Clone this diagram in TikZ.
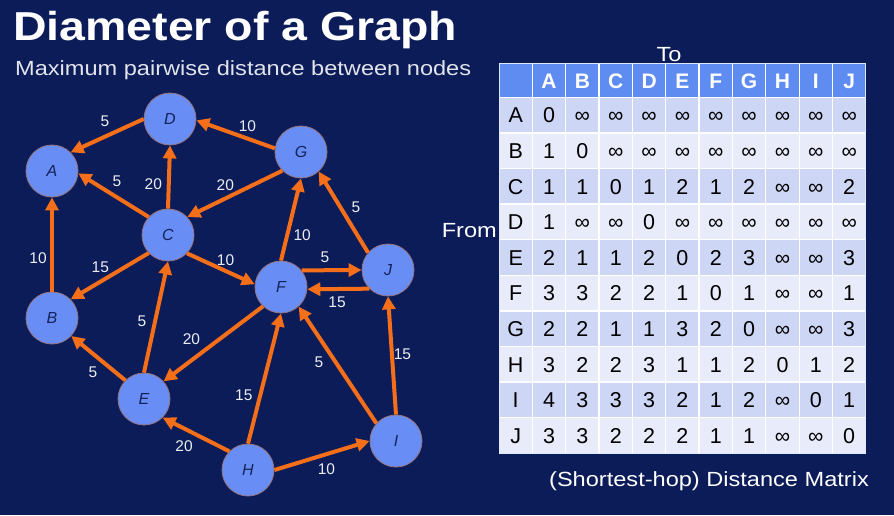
\documentclass[tikz,border=0pt]{standalone}
\usepackage{fontspec}
\setmainfont{Liberation Sans}
\newfontfamily\widefont[FakeStretch=1.15]{Liberation Sans}
\usetikzlibrary{arrows.meta}

\definecolor{navy}{RGB}{12,28,88}
\definecolor{vfill}{RGB}{104,142,246}
\definecolor{vline}{RGB}{150,115,125}
\definecolor{vtext}{RGB}{20,34,90}
\definecolor{edgeor}{RGB}{245,110,25}
\definecolor{hdrblue}{RGB}{95,140,240}
\definecolor{rowdark}{RGB}{205,214,245}
\definecolor{rowlight}{RGB}{232,236,250}

\tikzset{
    vert/.style={circle, minimum size=52pt, inner sep=0pt, fill=vfill, draw=vline, line width=0.8pt,
        text=vtext, font=\fontsize{16}{16}\selectfont\itshape},
    link/.style={draw=edgeor, line width=4pt, -{Triangle[length=13pt,width=13pt]}},
    wt/.style={text=white!92!navy, font=\fontsize{15.5}{15.5}\selectfont},
    cell/.style={text height=15.5pt, text depth=0pt, inner sep=0pt, font=\fontsize{21.5}{21.5}\selectfont},
    hcell/.style={cell, text=white, font=\fontsize{21}{21}\selectfont\bfseries},
    caption/.style={anchor=base, inner sep=0pt, text=white, font=\widefont\fontsize{20.5}{20.5}\selectfont},
}

\begin{document}
\begin{tikzpicture}[x=1pt, y=-1pt]
    \fill[navy] (0,0) rectangle (894,515);
    \useasboundingbox (0,0) rectangle (894,515);

    \node[anchor=base west, inner sep=0pt, text=white, font=\widefont\fontsize{40.4}{40.4}\selectfont\bfseries] (title) at (13,40) {Diameter of a Graph};
    \node[caption, anchor=base west, text=white!88!navy] (subtitle) at (15,75) {Maximum pairwise distance between nodes};

    % graph
    \node[vert] (A) at (52,171) {A};
    \node[vert] (B) at (52,318) {B};
    \node[vert] (C) at (168,235) {C};
    \node[vert] (D) at (170,119) {D};
    \node[vert] (E) at (144,399) {E};
    \node[vert] (F) at (281,287) {F};
    \node[vert] (G) at (301,152) {G};
    \node[vert] (H) at (248,470) {H};
    \node[vert] (I) at (396,441) {I};
    \node[vert] (J) at (388,270) {J};

    \draw[link] (D.180) -- node[wt, pos=.53, above=5pt] {5} (A.45);
    \draw[link] (G.172) -- node[wt, pos=.35, above=2pt] {10} (D.-3);
    \draw[link] (C.137) -- node[wt, pos=.45, above=5pt] {5} (A.-5);
    \draw[link] (C.90) -- node[wt, pos=.39, left=1.5pt] {20} (D.-90);
    \draw[link] (G.225) -- node[wt, pos=.6, above=2pt] {20} (C.43);
    \draw[link] (B.90) -- node[wt, pos=.35, left] {10} (A.-90);
    \draw[link] (C.223) -- node[wt, pos=.62, above=4pt] {15} (B.45);
    \draw[link] (C.316) -- node[wt, pos=.57, above] {10} (F.174);
    \draw[link] (F.90) -- node[wt, pos=.31, right=1pt] {10} (G.-90);
    \draw[link] (J.139) -- node[wt, pos=.56, right=6pt] {5} (G.312);
    \draw[link] (F.39) -- node[wt, pos=.39, above=2pt] {5} (J.180);
    \draw[link] (J.225) -- node[wt, pos=.52, below=2pt] {15} (F.-5);
    \draw[link] (E.90) -- node[wt, pos=.46, left=3.5pt] {5} (C.-90);
    \draw[link] (F.227) -- node[wt, pos=.58, above left] {20} (E.42);
    \draw[link] (E.135) -- node[wt, pos=.42, below left] {5} (B.317);
    \draw[link] (H.north) -- node[wt, pos=.37, left=2.5pt] {15} (F.south);
    \draw[link] (I.138) -- node[wt, pos=.52, left=7.5pt] {5} (F.312);
    \draw[link] (I.north) -- node[wt, pos=.51, right=-3.5pt] {15} (J.south);
    \draw[link] (H.135) -- node[wt, pos=.47, below left] {20} (E.315);
    \draw[link] (H.0) -- node[wt, pos=.4, below right] {10} (I.180);

    % distance matrix
    \fill[hdrblue] (499,63.3) rectangle (865.8,97.3);
    \foreach \i in {0,2,...,8} {
        \fill[rowdark] (499,97.3+\i*35.6) rectangle (865.8,133+\i*35.6);
        \fill[rowlight] (499,133+\i*35.6) rectangle (865.8,168.6+\i*35.6);
    }
    \foreach \j in {1,...,10}
        \draw[white, line width=1.3pt] (499+\j*33.35,63.3) -- (499+\j*33.35,453.3);
    \foreach \i in {0,...,9}
        \draw[white, line width=1.3pt] (499,97.3+\i*35.6) -- (865.8,97.3+\i*35.6);
    \draw[white!80!hdrblue, line width=1pt] (499,63.3) rectangle (865.8,453.3);

    \foreach \h [count=\j] in {A,...,J}
        \node[hcell] (to-\h) at (515.7+\j*33.35,80.3) {\h};
    \foreach \r/\vals [count=\i] in {
        A/{0,∞,∞,∞,∞,∞,∞,∞,∞,∞},
        B/{1,0,∞,∞,∞,∞,∞,∞,∞,∞},
        C/{1,1,0,1,2,1,2,∞,∞,2},
        D/{1,∞,∞,0,∞,∞,∞,∞,∞,∞},
        E/{2,1,1,2,0,2,3,∞,∞,3},
        F/{3,3,2,2,1,0,1,∞,∞,1},
        G/{2,2,1,1,3,2,0,∞,∞,3},
        H/{3,2,2,3,1,1,2,0,1,2},
        I/{4,3,3,3,2,1,2,∞,0,1},
        J/{3,3,2,2,2,1,1,∞,∞,0}} {
        \node[cell] (from-\r) at (515.7,79.5+\i*35.6) {\r};
        \foreach \v [count=\j] in \vals
            \node[cell] (d-\r-\j) at (515.7+\j*33.35,79.5+\i*35.6) {\v};
    }

    \node[caption] (to) at (669,61) {To};
    \node[caption, anchor=base east] (from) at (497,237.3) {From};
    \node[caption] (matrix) at (709,486) {(Shortest-hop) Distance Matrix};
\end{tikzpicture}
\end{document}
